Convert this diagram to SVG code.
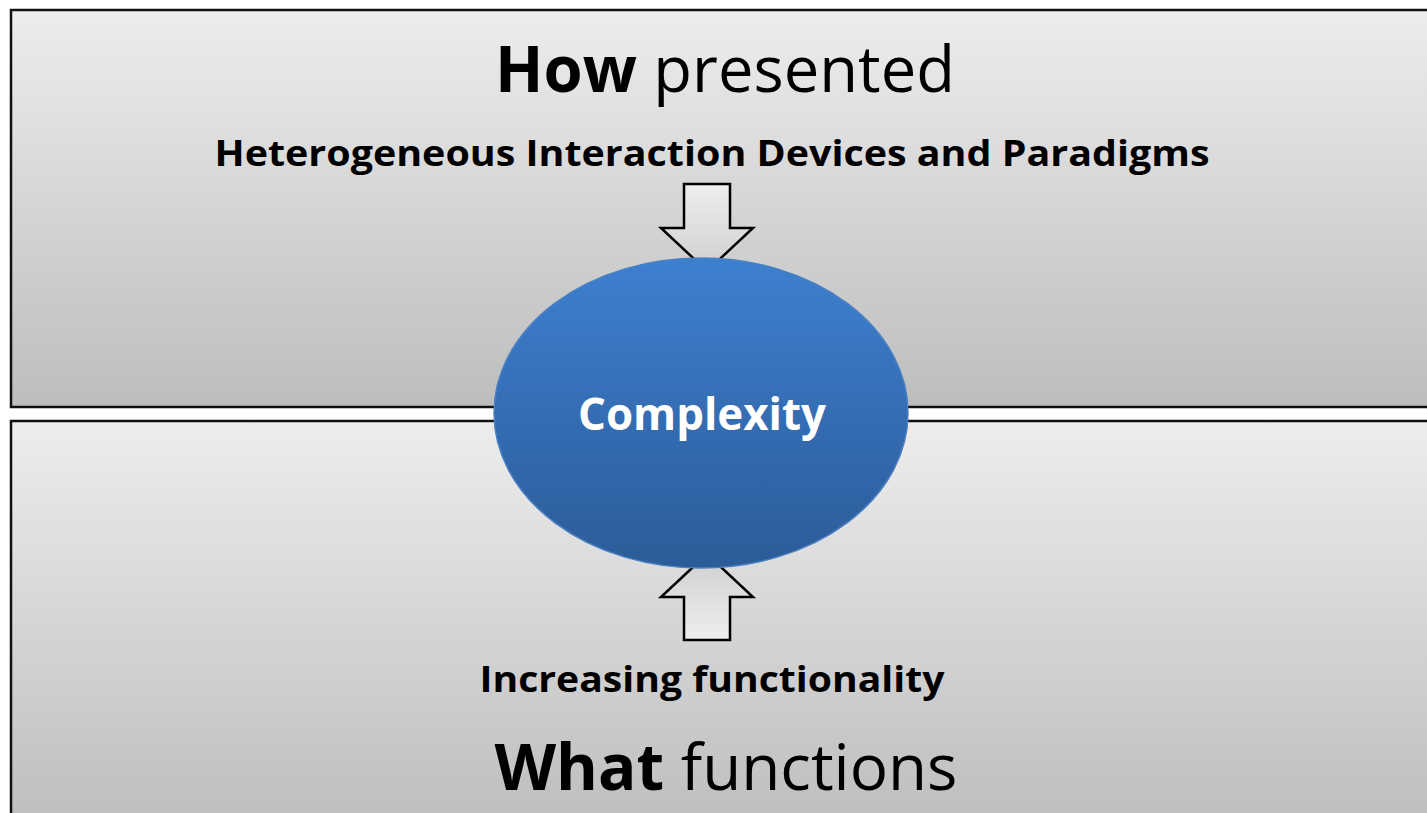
<svg xmlns="http://www.w3.org/2000/svg" width="1427" height="813" viewBox="0 0 1427 813">
  <defs>
    <linearGradient id="panelFill" x1="0" y1="0" x2="0" y2="1">
      <stop offset="0" stop-color="#ededed"/>
      <stop offset="1" stop-color="#bdbdbd"/>
    </linearGradient>
    <linearGradient id="arrowFill" x1="0" y1="0" x2="0" y2="1">
      <stop offset="0" stop-color="#eeeeee"/>
      <stop offset="1" stop-color="#cfcfcf"/>
    </linearGradient>
    <linearGradient id="arrowFillUp" x1="0" y1="1" x2="0" y2="0">
      <stop offset="0" stop-color="#eeeeee"/>
      <stop offset="1" stop-color="#cfcfcf"/>
    </linearGradient>
    <linearGradient id="hubFill" x1="0" y1="0" x2="0" y2="1">
      <stop offset="0" stop-color="#3d80d0"/>
      <stop offset="1" stop-color="#2c5b98"/>
    </linearGradient>
    <style>
      .panel { fill: url(#panelFill); stroke: #111; stroke-width: 2.5; }
      .arrow { stroke: #000; stroke-width: 2.5; stroke-linejoin: miter; }
      .hub { fill: url(#hubFill); stroke: #4b80c2; stroke-width: 1.5; }
      .title { font-family: "Open Sans", "Liberation Sans", sans-serif; font-size: 64px; fill: #000; }
      .sub { font-family: "Open Sans", "Liberation Sans", sans-serif; font-size: 36px; font-weight: bold; fill: #000; }
      .hubText { font-family: "Open Sans", "Liberation Sans", sans-serif; font-size: 44px; font-weight: bold; fill: #fff; }
      .b { font-weight: bold; }
    </style>
  </defs>

  <rect width="1427" height="813" fill="#ffffff"/>

  <!-- Upper panel: presentation side -->
  <g id="panel-how">
    <rect class="panel" x="11" y="10" width="1430" height="397"/>
    <text class="title" x="725" y="92" text-anchor="middle" textLength="460" lengthAdjust="spacingAndGlyphs"><tspan class="b">How</tspan> presented</text>
    <text class="sub" x="712" y="166" text-anchor="middle" textLength="995" lengthAdjust="spacingAndGlyphs">Heterogeneous Interaction Devices and Paradigms</text>
  </g>

  <!-- Lower panel: functional side -->
  <g id="panel-what">
    <rect class="panel" x="11" y="421" width="1430" height="410"/>
    <text class="sub" x="712" y="692" text-anchor="middle" textLength="465" lengthAdjust="spacingAndGlyphs">Increasing functionality</text>
    <text class="title" x="726" y="790" text-anchor="middle" textLength="463" lengthAdjust="spacingAndGlyphs"><tspan class="b">What</tspan> functions</text>
  </g>

  <!-- Block arrows pointing at the hub -->
  <g id="connectors">
    <polygon id="arrow-down" class="arrow" fill="url(#arrowFill)" points="684,184 730,184 730,228 753,228 707,271 661,228 684,228"/>
    <polygon id="arrow-up" class="arrow" fill="url(#arrowFillUp)" points="684,640 730,640 730,597 753,597 707,554 661,597 684,597"/>
  </g>

  <!-- Central hub -->
  <g id="hub-complexity">
    <ellipse class="hub" cx="701" cy="413" rx="207" ry="155"/>
    <text class="hubText" x="702" y="430" text-anchor="middle" textLength="248" lengthAdjust="spacingAndGlyphs">Complexity</text>
  </g>
</svg>
